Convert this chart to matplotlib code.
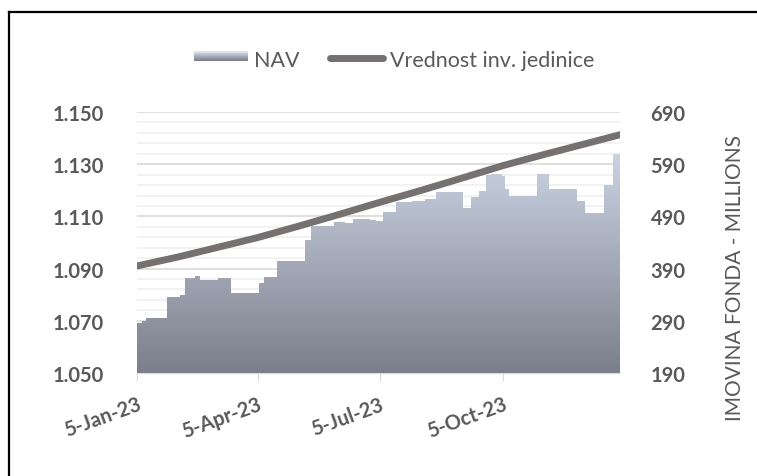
import numpy as np
import pandas as pd
import matplotlib
matplotlib.use("Agg")
import matplotlib.pyplot as plt
import matplotlib.dates as mdates
from matplotlib.colors import LinearSegmentedColormap
from matplotlib.patches import Patch, Rectangle
from matplotlib.lines import Line2D
from matplotlib.legend_handler import HandlerBase

plt.rcParams['font.family'] = ['Lato', 'DejaVu Sans']

# NAV (imovina fonda, mil.) - datumi promjene nivoa
nav_dates = ['2023-01-05', '2023-01-09', '2023-01-12', '2023-01-27', '2023-02-06',
             '2023-02-10', '2023-02-17', '2023-02-21', '2023-03-01', '2023-03-06',
             '2023-03-16', '2023-04-06', '2023-04-10', '2023-04-19', '2023-05-10',
             '2023-05-15', '2023-06-01', '2023-06-09', '2023-06-15', '2023-06-28',
             '2023-07-02', '2023-07-07', '2023-07-17', '2023-07-29', '2023-08-08',
             '2023-08-16', '2023-09-05', '2023-09-11', '2023-09-17', '2023-09-22',
             '2023-09-26', '2023-10-04', '2023-10-06', '2023-10-09', '2023-10-30',
             '2023-11-08', '2023-11-29', '2023-12-05', '2023-12-15', '2023-12-19',
             '2023-12-26', '2023-12-31']
nav_values = [286, 289, 296, 336, 339,
              372, 375, 369, 368, 372,
              343, 363, 374, 404, 444,
              472, 479, 477, 485, 484,
              482, 499, 518, 520, 523,
              537, 507, 528, 539, 569,
              572, 568, 542, 530, 571,
              542, 520, 496, 497, 550,
              610, 610]

# vrednost investicione jedinice
unit_dates = ['2023-01-05', '2023-02-05', '2023-03-05', '2023-04-05', '2023-05-05',
              '2023-06-05', '2023-07-05', '2023-08-05', '2023-09-05', '2023-10-05',
              '2023-11-05', '2023-12-05', '2023-12-31']
unit_values = [1.0910, 1.0945, 1.0980, 1.1019, 1.1062, 1.1108, 1.1154,
               1.1200, 1.1248, 1.1295, 1.1338, 1.1378, 1.1413]

tick_dates = ['2023-01-05', '2023-04-05', '2023-07-05', '2023-10-05']
tick_labels = ['5-Jan-23', '5-Apr-23', '5-Jul-23', '5-Oct-23']
left_ticks = [1.050, 1.070, 1.090, 1.110, 1.130, 1.150]
right_ticks = [190, 290, 390, 490, 590, 690]

nav_x = pd.to_datetime(nav_dates)
unit_x = pd.to_datetime(unit_dates)

txt_color = '#595959'
line_color = '#767171'
grad_top = '#DAE3F3'
grad_bottom = '#7B7F8B'
cmap = LinearSegmentedColormap.from_list('nav', [grad_bottom, grad_top])

W, H = 757, 477
fig = plt.figure(figsize=(W / 100, H / 100), dpi=100)
ax = fig.add_axes([137 / W, 1 - 374 / H, (620 - 137) / W, (374 - 113) / H])
ax2 = ax.twinx()

# NAV area (desna osa) sa gradijentom
x0, x1 = nav_x[0], nav_x[-1]
poly = ax.fill_between(nav_x, nav_values, 190, step='post', facecolor='none', edgecolor='none')
grad = np.linspace(0, 1, 256).reshape(-1, 1)
img = ax.imshow(grad, cmap=cmap, origin='lower', aspect='auto',
                extent=[mdates.date2num(x0), mdates.date2num(x1), 190, 690], zorder=2)
img.set_clip_path(poly.get_paths()[0], transform=ax.transData)
ax.set_xlim(x0, x1)
ax.set_ylim(190, 690)

# linija vrednosti jedinice (leva osa)
ax2.plot(unit_x, unit_values, color=line_color, lw=5, solid_capstyle='round', zorder=3)
ax2.set_ylim(1.05, 1.15)

# mreza: glavne i pomocne linije
ax.set_yticks(right_ticks)
ax.set_yticks(np.arange(190, 691, 20), minor=True)
ax.set_axisbelow(True)
ax.grid(True, which='major', axis='y', color='#D9D9D9', lw=1.2)
ax.grid(True, which='minor', axis='y', color='#F0F0F0', lw=1.2)

# ose: NAV desno, jedinica levo
ax.yaxis.tick_right()
ax2.yaxis.tick_left()
ax.set_yticklabels([str(v) for v in right_ticks], fontweight='bold')
ax2.set_yticks(left_ticks)
ax2.set_yticklabels([f'{v:.3f}' for v in left_ticks], fontweight='bold')
ax.tick_params(axis='y', which='both', length=0, pad=22, labelsize=14.5, labelcolor=txt_color)
ax2.tick_params(axis='y', length=0, pad=24, labelsize=14.5, labelcolor=txt_color)

for a in (ax, ax2):
    for s in a.spines.values():
        s.set_visible(False)
ax.spines['bottom'].set_visible(True)
ax.spines['bottom'].set_color('#D9D9D9')
ax.spines['bottom'].set_zorder(4)

ax.set_xticks(pd.to_datetime(tick_dates))
ax.set_xticklabels(tick_labels, rotation=20, ha='right', va='top', rotation_mode='anchor',
                   fontsize=14.5, fontweight='bold', color=txt_color)
ax.tick_params(axis='x', length=6, color='#D9D9D9', pad=9)

fig.text(735 / W, 1 - 278 / H, 'IMOVINA FONDA - MILLIONS', rotation=90,
         ha='center', va='center', fontsize=15, color=txt_color)


class GradientHandler(HandlerBase):
    def create_artists(self, legend, orig_handle, xdescent, ydescent, width, height, fontsize, trans):
        arts = []
        n = 10
        y0 = -ydescent + height * 0.35
        hh = height * 0.6
        for i in range(n):
            c = cmap(i / (n - 1))
            arts.append(Rectangle((-xdescent, y0 + hh * i / n), width, hh / n + 0.2,
                                  facecolor=c, edgecolor='none', transform=trans))
        return arts


nav_handle = Patch(label='NAV')
unit_handle = Line2D([], [], color=line_color, lw=5, solid_capstyle='round',
                     label='Vrednost inv. jedinice')
leg = fig.legend(handles=[nav_handle, unit_handle], handler_map={nav_handle: GradientHandler()},
                 loc='center', bbox_to_anchor=(394 / W, 1 - 61 / H), ncol=2, frameon=False,
                 fontsize=15.5, handlelength=2.5, handletextpad=0.3, columnspacing=1.4)
for t in leg.get_texts():
    t.set_color(txt_color)

# okvir grafikona
fig.add_artist(Line2D([9 / W, 9 / W], [0, 1 - 12.7 / H], color='black', lw=1.6))
fig.add_artist(Line2D([9 / W, 1], [1 - 12.7 / H, 1 - 12.7 / H], color='black', lw=1.6))

fig.savefig('out.png', dpi=100)
